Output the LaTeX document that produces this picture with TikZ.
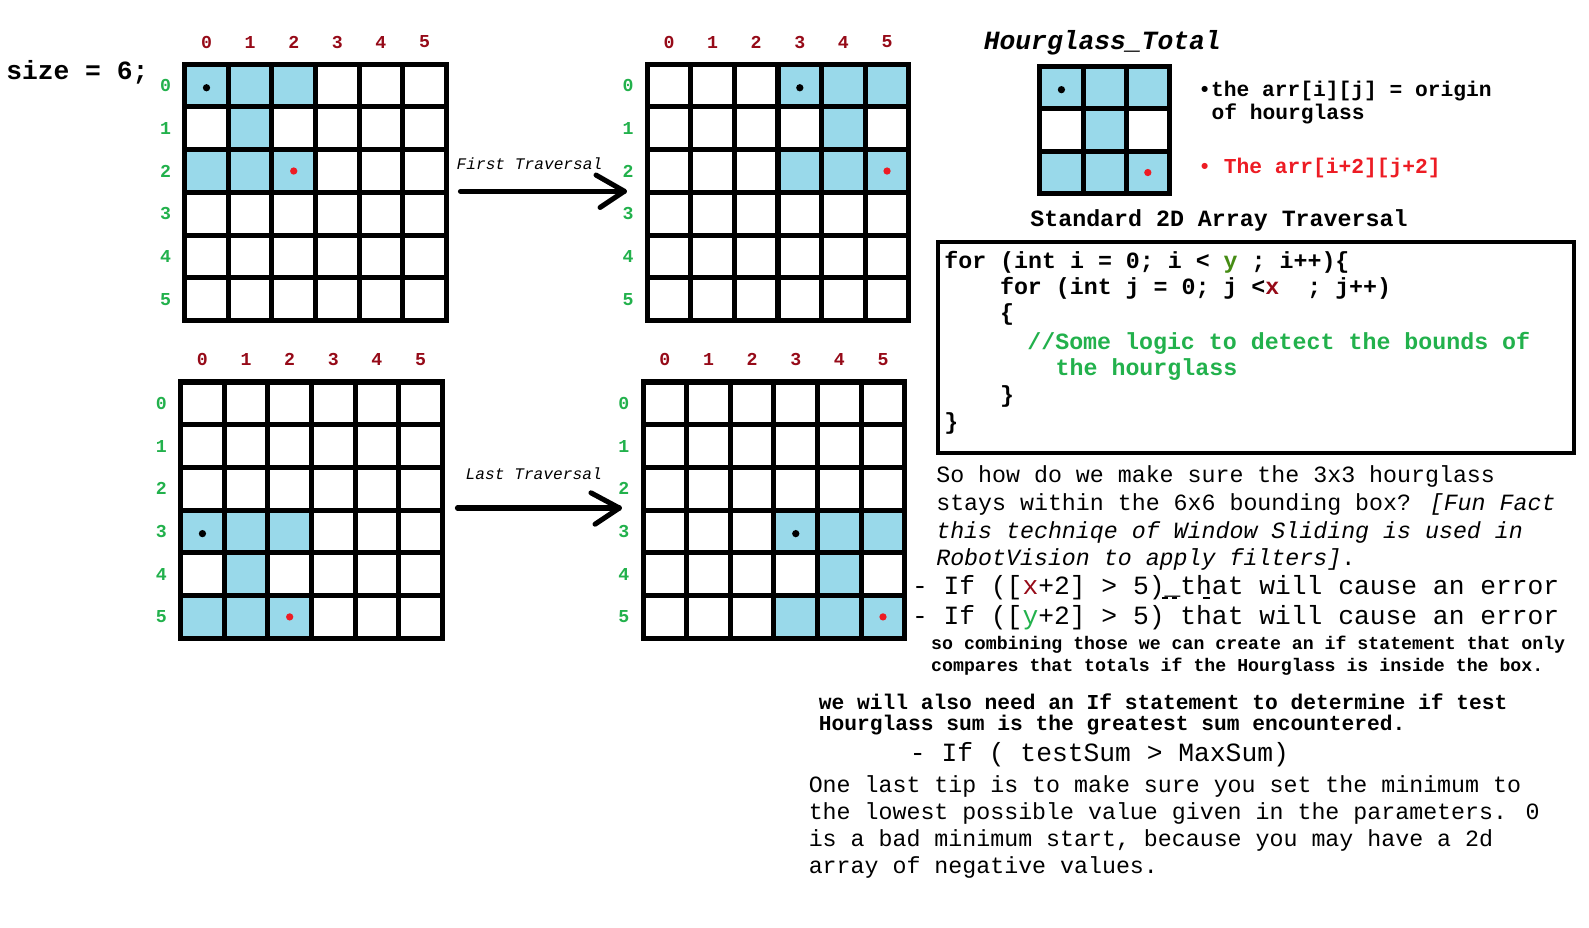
\documentclass[tikz,border=0pt]{standalone}
\usepackage{fontspec}
\newfontfamily\cour{Liberation Mono}
\definecolor{cellblue}{RGB}{153,217,234}
\definecolor{dotred}{RGB}{237,28,36}
\definecolor{lblred}{RGB}{150,10,24}
\definecolor{lblgreen}{RGB}{34,177,76}
\definecolor{codegreen}{RGB}{70,140,20}
\newcommand\fsz[1]{\fontsize{#1}{#1}\selectfont}
\tikzset{
  gridline/.style={line width=5pt, line cap=rect},
  collab/.style={inner sep=0pt, text=lblred, font=\cour\bfseries\fsz{18}},
  rowlab/.style={inner sep=0pt, text=lblgreen, font=\cour\bfseries\fsz{18}},
  txt/.style={inner sep=0pt, anchor=west, font=\cour\fsz{23}},
  btxt/.style={inner sep=0pt, anchor=west, font=\cour\bfseries\fsz{23}},
  arrowline/.style={line width=5pt, line cap=round, line join=round},
  tick/.style={line width=1.5pt},
}
% #1 name, #2 x, #3 y, #4 blue cells c/r, #5 black dot c/r, #6 red dot c/r
\newcommand\sixgrid[6]{%
  \begin{scope}[shift={(#2,#3)}, x=43.1pt, y=-42.2pt]
    \foreach \c/\r in {#4} \fill[cellblue] (\c,\r) rectangle ++(1,1);
    \foreach \k in {0,...,6} {
      \draw[gridline] (\k,0) -- (\k,6);
      \draw[gridline] (0,\k) -- (6,\k);
    }
    \foreach \k in {0,...,5} {
      \node[collab] (#1c\k) at (\k+0.5,-0.52) {\k};
      \node[rowlab] (#1r\k) at (-0.44,\k+0.5) {\k};
    }
    \foreach \c/\r in {#5} \fill[black] (\c+0.5,\r+0.55) circle (3.6pt);
    \foreach \c/\r in {#6} \fill[dotred] (\c+0.5,\r+0.5) circle (3.6pt);
  \end{scope}}
\begin{document}
\begin{tikzpicture}[x=1pt,y=-1pt]
\useasboundingbox (0,0) rectangle (1570.2,917);
\fill[white] (0,0) rectangle (1570.2,917);

\node[btxt, font=\cour\bfseries\fsz{26}] (size) at (6,71) {size = 6;};

\sixgrid{ga}{182.5}{63.5}{0/0,1/0,2/0,1/1,0/2,1/2,2/2}{0/0}{2/2}
\sixgrid{gb}{639.5}{63.5}{3/0,4/0,5/0,4/1,3/2,4/2,5/2}{3/0}{5/2}
\sixgrid{gc}{178.5}{377.5}{0/3,1/3,2/3,1/4,0/5,1/5,2/5}{0/3}{2/5}
\sixgrid{gd}{635.5}{377.5}{3/3,4/3,5/3,4/4,3/5,4/5,5/5}{3/3}{5/5}

% arrows
\coordinate (a1s) at (455,189);
\coordinate (a1e) at (617,189);
\draw[arrowline] (a1s) -- (a1e);
\draw[arrowline] ([shift={(-28,-16)}]a1e) -- (a1e) -- ([shift={(-24,16)}]a1e);
\node[txt, font=\cour\itshape\fsz{16}] (t1) at (451,162) {First Traversal};

\coordinate (a2s) at (452,502);
\coordinate (a2e) at (612,502);
\draw[arrowline] (a2s) -- (a2e);
\draw[arrowline] ([shift={(-28,-15)}]a2e) -- (a2e) -- ([shift={(-24,16)}]a2e);
\node[txt, font=\cour\itshape\fsz{16}] (t2) at (460,468) {Last Traversal};

% hourglass legend
\node[btxt, font=\cour\bfseries\itshape\fsz{26}] (hgt) at (972,42) {Hourglass\_Total};
\begin{scope}[shift={(1027.5,65.5)}, x=42.7pt, y=-42pt]
  \foreach \c/\r in {0/0,1/0,2/0,1/1,0/2,1/2,2/2} \fill[cellblue] (\c,\r) rectangle ++(1,1);
  \foreach \k in {0,...,3} {
    \draw[gridline] (\k,0) -- (\k,3);
    \draw[gridline] (0,\k) -- (3,\k);
  }
  \fill[black] (0.5,0.55) circle (3.6pt);
  \fill[dotred] (2.5,2.5) circle (3.6pt);
\end{scope}
\node[btxt, font=\cour\bfseries\fsz{21}] (hg1) at (1184,90) {•the arr[i][j] = origin};
\node[btxt, font=\cour\bfseries\fsz{21}] (hg2) at (1197,113) {of hourglass};
\node[btxt, font=\cour\bfseries\fsz{21}, text=dotred] (hg3) at (1184,166) {• The arr[i+2][j+2]};

\node[btxt] (std) at (1018,218) {Standard 2D Array Traversal};

% code box
\node[draw, line width=4pt, minimum width=628pt, minimum height=209pt, anchor=north west, inner sep=0pt] (codebox) at (925,237) {};
\node[btxt] (c1) at (933,259) {for (int i = 0; i < \textcolor{codegreen}{y} ; i++)\{};
\node[btxt] (c2) at (988,285) {for (int j = 0; j <\textcolor{lblred}{x}~~; j++)};
\node[btxt] (c3) at (988,311) {\{};
\node[btxt, text=lblgreen] (c4) at (1015,339) {//Some logic to detect the bounds of};
\node[btxt, text=lblgreen] (c5) at (1043,365) {the hourglass};
\node[btxt] (c6) at (988,392) {\}};
\node[btxt] (c7) at (933,418) {\}};

% explanation
\node[txt] (p1) at (925,471) {So how do we make sure the 3x3 hourglass};
\node[txt] (p2) at (925,499) {stays within the 6x6 bounding box? \textit{[Fun Fact}};
\node[txt] (p3) at (925,526) {\textit{this techniqe of Window Sliding is used in}};
\node[txt] (p4) at (925,553) {\textit{RobotVision to apply filters]}.};
\node[txt, font=\cour\fsz{26}] (e1) at (901,581) {- If ([\textcolor{lblred}{x}+2] > 5)\_that will cause an error};
\draw[tick] (1148,591) -- (1154,591);
\draw[tick] (1158,591) -- (1163,591);
\draw[tick] (1189,591) -- (1196,591);
\node[txt, font=\cour\fsz{26}] (e2) at (901,610) {- If ([\textcolor{lblgreen}{y}+2] > 5) that will cause an error};
\node[btxt, font=\cour\bfseries\fsz{18}] (s1) at (920,637) {so combining those we can create an if statement that only};
\node[btxt, font=\cour\bfseries\fsz{18}] (s2) at (920,659) {compares that totals if the Hourglass is inside the box.};

\node[btxt, font=\cour\bfseries\fsz{21}] (w1) at (809,693) {we will also need an If statement to determine if test};
\node[btxt, font=\cour\bfseries\fsz{21}] (w2) at (809,716) {Hourglass sum is the greatest sum encountered.};
\node[txt, font=\cour\fsz{26}] (m1) at (899,746) {- If ( testSum > MaxSum)};

\node[txt] (o1) at (799,777) {One last tip is to make sure you set the minimum to};
\node[txt] (o2) at (799,804) {the lowest possible value given in the parameters. 0};
\node[txt] (o3) at (799,831) {is a bad minimum start, because you may have a 2d};
\node[txt] (o4) at (799,857) {array of negative values.};
\end{tikzpicture}
\end{document}
